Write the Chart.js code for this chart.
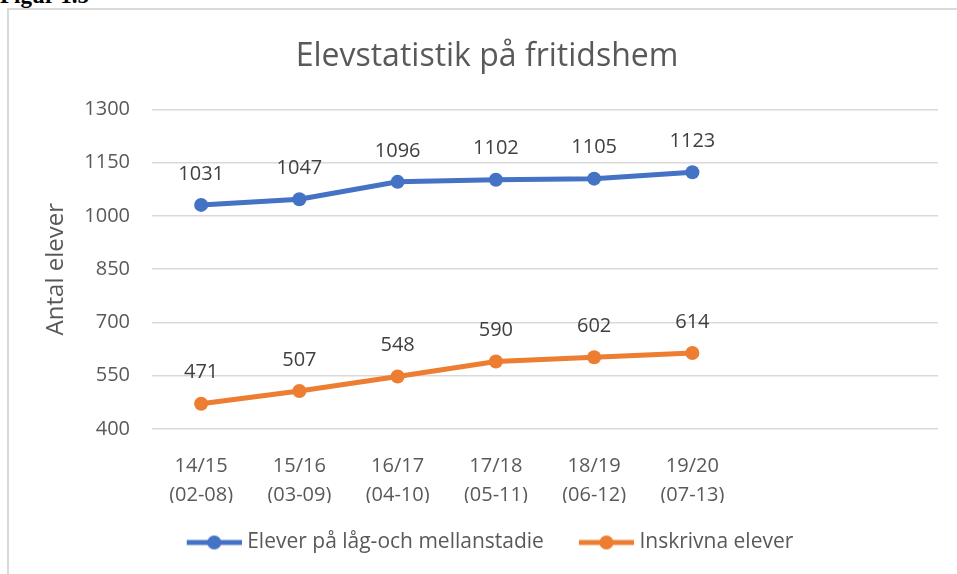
<!DOCTYPE html>
<html>
<head>
<meta charset="utf-8">
<script src="https://cdn.jsdelivr.net/npm/chart.js@4"></script>
<style>
  html, body { margin: 0; padding: 0; background: #fff; }
  body { width: 957px; height: 574px; position: relative; overflow: hidden; }
  #figur { position: absolute; left: 0; top: -16px; font: bold 23px "Liberation Serif", serif; line-height: 23px; color: #000; }
  #ram { position: absolute; left: 7px; top: 8px; width: 960px; height: 580px; border-left: 2px solid #d9d9d9; border-top: 2px solid #d9d9d9; }
  #wrap { position: absolute; left: 0; top: 0; width: 957px; height: 574px; }
</style>
</head>
<body>
<div id="figur">Figur 1.5</div>
<div id="ram"></div>
<div id="wrap"><canvas id="diagram"></canvas></div>
<script>
const lasar = [['14/15', '(02-08)'], ['15/16', '(03-09)'], ['16/17', '(04-10)'], ['17/18', '(05-11)'],
               ['18/19', '(06-12)'], ['19/20', '(07-13)'], '', ''];
const lagMellan = [1031, 1047, 1096, 1102, 1105, 1123];
const inskrivna = [471, 507, 548, 590, 602, 614];
const yTicks = [400, 550, 700, 850, 1000, 1150, 1300];

const font = '"Open Sans", "Noto Sans", sans-serif';
const gra = '#595959';

// legendsymbol: linje med punkt i mitten
function legendSymbol(farg) {
    const c = document.createElement('canvas');
    c.width = 66; c.height = 16;
    const g = c.getContext('2d');
    g.strokeStyle = farg; g.lineWidth = 5;
    g.beginPath(); g.moveTo(11, 8); g.lineTo(66, 8); g.stroke();
    g.fillStyle = farg;
    g.beginPath(); g.arc(38.5, 8, 7, 0, Math.PI * 2); g.fill();
    return c;
}

const etiketter = {
    id: 'etiketter',
    afterDatasetsDraw(chart) {
        const ctx = chart.ctx;
        ctx.save();
        ctx.font = '20px ' + font;
        ctx.fillStyle = '#404040';
        ctx.textAlign = 'center';
        ctx.textBaseline = 'middle';
        chart.data.datasets.forEach((ds, i) => {
            chart.getDatasetMeta(i).data.forEach((p, j) => {
                ctx.fillText(ds.data[j], p.x, p.y - 31);
            });
        });
        ctx.restore();
    }
};

new Chart(document.getElementById('diagram'), {
    type: 'line',
    data: {
        labels: lasar,
        datasets: [
            { label: 'Elever på låg-och mellanstadie', data: lagMellan, borderColor: '#4472C4', backgroundColor: '#4472C4' },
            { label: 'Inskrivna elever', data: inskrivna, borderColor: '#ED7D31', backgroundColor: '#ED7D31' }
        ]
    },
    options: {
        responsive: true,
        maintainAspectRatio: false,
        animation: false,
        layout: { padding: { left: 36, right: 19, top: 0, bottom: 11 } },
        elements: {
            line: { borderWidth: 5, tension: 0 },
            point: { radius: 7, borderWidth: 0 }
        },
        plugins: {
            title: {
                display: true,
                text: 'Elevstatistik på fritidshem',
                color: gra,
                font: { family: font, size: 32, weight: 'normal' },
                padding: { top: 38, bottom: 33 }
            },
            legend: {
                position: 'bottom',
                labels: {
                    color: gra,
                    font: { family: font, size: 21 },
                    padding: 29,
                    usePointStyle: true,
                    pointStyleWidth: 56,
                    generateLabels(chart) {
                        return chart.data.datasets.map((ds, i) => ({
                            text: ds.label,
                            fontColor: gra,
                            pointStyle: legendSymbol(ds.borderColor),
                            lineWidth: 0,
                            strokeStyle: 'rgba(0,0,0,0)',
                            fillStyle: 'rgba(0,0,0,0)',
                            datasetIndex: i
                        }));
                    }
                }
            },
            tooltip: { enabled: false }
        },
        scales: {
            x: {
                offset: true,
                grid: { display: false },
                border: { display: false },
                ticks: { color: gra, font: { family: font, size: 20, lineHeight: 1.45 }, padding: 15, maxRotation: 0, autoSkip: false },
                afterFit(s) { s.height = 74; }
            },
            y: {
                min: 400,
                max: 1300,
                afterBuildTicks(s) { s.ticks = yTicks.map(v => ({ value: v })); },
                grid: { color: '#d9d9d9', lineWidth: 1.5, drawTicks: false },
                border: { display: false },
                ticks: { color: gra, font: { family: font, size: 20 }, padding: 22, callback: v => String(v) },
                title: {
                    display: true,
                    text: 'Antal elever',
                    color: gra,
                    font: { family: font, size: 24 },
                    padding: { top: 6, bottom: 0 }
                },
                afterFit(s) { s.width = 116; }
            }
        }
    },
    plugins: [etiketter]
});
</script>
</body>
</html>
